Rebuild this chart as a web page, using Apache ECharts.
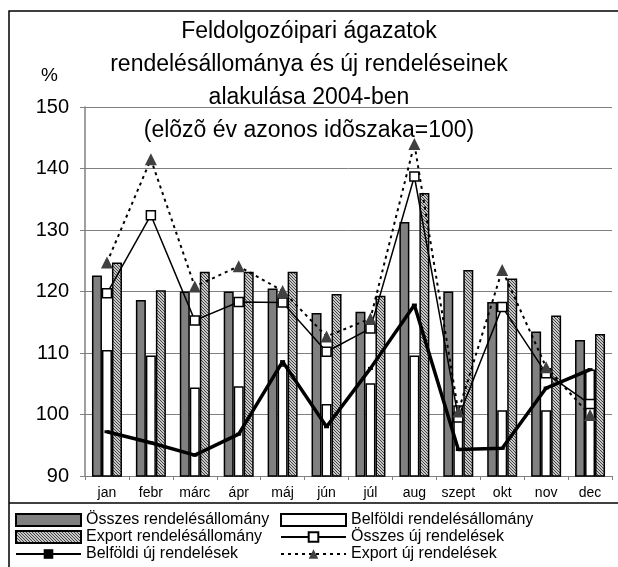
<!DOCTYPE html>
<html>
<head>
<meta charset="utf-8">
<script src="https://cdn.jsdelivr.net/npm/echarts@6/dist/echarts.min.js"></script>
<style>
  html, body { margin: 0; padding: 0; background: #fff; }
  #chart { width: 618px; height: 567px; }
</style>
</head>
<body>
<div id="chart"></div>
<script>
// months
const months = ['jan', 'febr', 'márc', 'ápr', 'máj', 'jún', 'júl', 'aug', 'szept', 'okt', 'nov', 'dec']

// rendelésállomány (bars)
const osszesAllomany = [122.6, 118.6, 120.0, 120.0, 120.5, 116.5, 116.7, 131.3, 120.0, 118.3, 113.5, 112.1]
const belfoldiAllomany = [110.5, 109.6, 104.4, 104.6, 108.0, 101.7, 105.1, 109.6, 101.5, 100.7, 100.7, 107.3]
const exportAllomany = [124.7, 120.2, 123.2, 123.2, 123.2, 119.6, 119.3, 136.0, 123.5, 122.1, 116.1, 113.1]

// új rendelések (lines)
const osszesUj = [119.7, 132.4, 115.3, 118.3, 118.2, 110.2, 114.0, 138.7, 99.5, 117.5, 106.7, 101.7]
const exportUj = [124.7, 141.5, 120.8, 124.1, 120.1, 112.7, 115.6, 144.0, 100.5, 123.5, 107.7, 99.9]
const belfoldiUj = [97.2, 95.4, 93.4, 96.8, 108.6, 98.0, 107.5, 117.8, 94.3, 94.5, 104.3, 107.3]

const font = "'Liberation Sans', Arial, sans-serif"

// hatch pattern for the export bars
let hatch = document.createElement('canvas')
hatch.width = 3
hatch.height = 3
let hctx = hatch.getContext('2d')
hctx.fillStyle = '#c8c8c8'
hctx.fillRect(0, 0, 3, 3)
hctx.fillStyle = '#444'
for (let i = 0; i < 3; i++) {
  hctx.fillRect(i, i, 1, 1)
}
const hatchColor = { image: hatch, repeat: 'repeat' }

let chart = echarts.init(document.getElementById('chart'))

let legendText = { fontFamily: font, fontSize: 16, color: '#000', lineHeight: 16 }

let option = {
  animation: false,
  title: {
    text: 'Feldolgozóipari ágazatok\nrendelésállománya és új rendeléseinek\nalakulása 2004-ben\n(elõzõ év azonos idõszaka=100)',
    left: 'center',
    top: 10,
    textStyle: {
      fontFamily: font,
      fontSize: 23,
      fontWeight: 'normal',
      lineHeight: 33,
      color: '#000'
    }
  },
  grid: {
    left: 85,
    right: 6,
    top: 107,
    bottom: 91
  },
  legend: [{
    orient: 'vertical',
    left: 15,
    top: 512,
    padding: 0,
    itemWidth: 65,
    itemHeight: 12,
    itemGap: 1,
    textStyle: legendText,
    data: [
      { name: 'Összes rendelésállomány', icon: 'rect' },
      { name: 'Export rendelésállomány', icon: 'rect' },
      'Belföldi új rendelések'
    ]
  }, {
    orient: 'vertical',
    left: 280,
    top: 512,
    padding: 0,
    itemWidth: 65,
    itemHeight: 12,
    itemGap: 1,
    textStyle: legendText,
    data: [
      { name: 'Belföldi rendelésállomány', icon: 'rect' },
      'Összes új rendelések',
      'Export új rendelések'
    ]
  }],
  xAxis: {
    type: 'category',
    data: months,
    axisLine: { lineStyle: { color: '#808080', width: 1 } },
    axisTick: { show: true, length: 4, lineStyle: { color: '#808080' } },
    axisLabel: { fontFamily: font, fontSize: 14, color: '#000', margin: 10, interval: 0 },
    splitLine: { show: false }
  },
  yAxis: {
    type: 'value',
    min: 90,
    max: 150,
    interval: 10,
    axisLine: { show: true, lineStyle: { color: '#808080', width: 1.5 } },
    axisTick: { show: true, length: 5, lineStyle: { color: '#808080' } },
    axisLabel: { fontFamily: font, fontSize: 20, color: '#000', margin: 16 },
    splitLine: { show: true, lineStyle: { color: '#808080', width: 1 } }
  },
  graphic: [
    {
      type: 'rect',
      shape: { x: 9, y: 11, width: 640, height: 600 },
      style: { fill: 'none', stroke: '#000', lineWidth: 1.5 },
      silent: true
    },
    {
      type: 'line',
      shape: { x1: 9, y1: 503, x2: 618, y2: 503 },
      style: { stroke: '#000', lineWidth: 1.5 },
      silent: true
    },
    {
      type: 'text',
      left: 41,
      top: 66,
      style: { text: '%', fontFamily: font, fontSize: 19, fill: '#000' }
    }
  ],
  series: [
    {
      name: 'Összes rendelésállomány',
      type: 'bar',
      data: osszesAllomany,
      barWidth: 10,
      barGap: '0%',
      itemStyle: { color: '#808080', borderColor: '#000', borderWidth: 1.5 }
    },
    {
      name: 'Belföldi rendelésállomány',
      type: 'bar',
      data: belfoldiAllomany,
      barWidth: 10,
      barGap: '0%',
      itemStyle: { color: '#fff', borderColor: '#000', borderWidth: 1.5 }
    },
    {
      name: 'Export rendelésállomány',
      type: 'bar',
      data: exportAllomany,
      barWidth: 10,
      barGap: '0%',
      itemStyle: { color: hatchColor, borderColor: '#000', borderWidth: 1.5 }
    },
    {
      name: 'Belföldi új rendelések',
      type: 'line',
      data: belfoldiUj,
      symbol: 'rect',
      symbolSize: [5, 3],
      z: 4,
      lineStyle: { color: '#000', width: 3.5 },
      itemStyle: { color: '#000' }
    },
    {
      name: 'Összes új rendelések',
      type: 'line',
      data: osszesUj,
      symbol: 'rect',
      symbolSize: 9,
      z: 5,
      lineStyle: { color: '#000', width: 1.5 },
      itemStyle: { color: '#fff', borderColor: '#000', borderWidth: 1.5 }
    },
    {
      name: 'Export új rendelések',
      type: 'line',
      data: exportUj,
      symbol: 'triangle',
      symbolSize: 12,
      z: 6,
      lineStyle: { color: '#000', width: 2, type: [3, 4] },
      itemStyle: { color: '#404040', borderColor: '#404040', borderWidth: 0 }
    }
  ]
}

chart.setOption(option)
</script>
</body>
</html>
